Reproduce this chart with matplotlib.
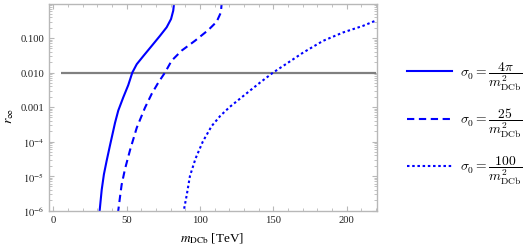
import numpy as np
import matplotlib
matplotlib.use('Agg')
import matplotlib.pyplot as plt
from matplotlib.ticker import FixedLocator, LogLocator, NullFormatter, MultipleLocator

plt.rcParams['font.family'] = ['Liberation Serif', 'DejaVu Serif']
plt.rcParams['mathtext.fontset'] = 'stix'

# values (m in TeV, r_inf)
m_solid = [31.4, 31.6, 33.0, 34.5, 36.4, 38.7, 42.1, 44.3, 47.7, 51.1, 53.9,
           56.9, 61.4, 67.1, 72.7, 77.3, 80.3, 81.8, 82.3, 82.4]
r_solid = [8e-7, 1e-6, 4.0e-6, 1.12e-5, 2.8e-5, 7.9e-5, 3.5e-4, 7.9e-4,
           1.9e-3, 4.3e-3, 1.0e-2, 1.74e-2, 3.0e-2, 5.9e-2, 0.115, 0.204,
           0.355, 0.62, 0.97, 1.3]

m_dash = [44.1, 44.3, 45.5, 46.6, 48.9, 52.3, 56.9, 62.5, 67.1, 71.6, 76.2,
          80.7, 87.5, 96.6, 105.7, 111.4, 114.3, 114.8, 115.0]
r_dash = [8e-7, 1e-6, 2.5e-6, 5.6e-6, 1.6e-5, 5.6e-5, 2.5e-4, 9.5e-4,
          2.4e-3, 5.1e-3, 1.0e-2, 2.2e-2, 4.3e-2, 8.3e-2, 0.17, 0.295,
          0.55, 0.97, 1.3]

m_dot = [88.8, 89.0, 91.0, 93.2, 97.0, 102.0, 108.0, 114.0, 120.3, 131.9,
         141.0, 150.0, 156.8, 170.5, 184.1, 197.7, 211.4, 220.0]
r_dot = [8e-7, 1e-6, 2.8e-6, 1.0e-5, 3.2e-5, 1.0e-4, 2.8e-4, 5.6e-4,
         1.0e-3, 2.5e-3, 5.1e-3, 1.0e-2, 1.55e-2, 3.8e-2, 8.3e-2, 0.145,
         0.226, 0.32]

m_line = [5, 220]
r_line = [0.01, 0.01]

labels = [r'$\sigma_0 = \dfrac{4\pi}{m_{\mathrm{DCb}}^2}$',
          r'$\sigma_0 = \dfrac{25}{m_{\mathrm{DCb}}^2}$',
          r'$\sigma_0 = \dfrac{100}{m_{\mathrm{DCb}}^2}$']

fig = plt.figure(figsize=(5.24, 2.53), dpi=100)
ax = fig.add_axes([48.5/524, 1-211.5/253, (376.7-48.5)/524, (211.5-4.5)/253])

blue = '#0000ff'
ax.plot(m_line, r_line, color='#808080', lw=1.6, solid_capstyle='butt')
l1, = ax.plot(m_solid, r_solid, color=blue, lw=1.5)
l2, = ax.plot(m_dash, r_dash, color=blue, lw=1.5, dashes=(3.5, 2.2))
l3, = ax.plot(m_dot, r_dot, color=blue, lw=1.5, dashes=(1.2, 1.3))

ax.set_yscale('log')
ax.set_xlim(-3.3, 220.6)
ax.set_ylim(1e-6, 1)

ax.xaxis.set_major_locator(MultipleLocator(50))
ax.xaxis.set_minor_locator(MultipleLocator(10))
ax.yaxis.set_major_locator(FixedLocator([1e-6, 1e-5, 1e-4, 1e-3, 1e-2, 1e-1]))
ax.set_yticklabels([r'$10^{-6}$', r'$10^{-5}$', r'$10^{-4}$', '0.001', '0.010', '0.100'])
ax.yaxis.set_minor_locator(LogLocator(base=10, subs=np.arange(2, 10)))
ax.yaxis.set_minor_formatter(NullFormatter())

for s in ax.spines.values():
    s.set_color('#b8b8b8')
    s.set_linewidth(1.0)
ax.tick_params(which='both', direction='in', color='#b8b8b8', top=True, right=True,
               labelsize=7.7, labelcolor='#222222')
ax.tick_params(which='major', length=3.5, width=0.8, pad=3)
ax.tick_params(which='minor', length=2, width=0.6)

ax.set_xlabel(r'$m_{\mathrm{DCb}}$ [TeV]', fontsize=9.5, labelpad=5)
ax.set_ylabel(r'$r_\infty$', fontsize=10)
ax.yaxis.set_label_coords(-0.1, 0.46)

leg = fig.legend([l1, l2, l3], labels, loc='center left',
                 bbox_to_anchor=(395/524, 0.511), frameon=False,
                 handlelength=3.3, labelspacing=1.05, fontsize=9.8,
                 handletextpad=0.6)
for t in leg.get_texts():
    t.set_math_fontfamily('cm')

fig.savefig('out.png', dpi=100)
